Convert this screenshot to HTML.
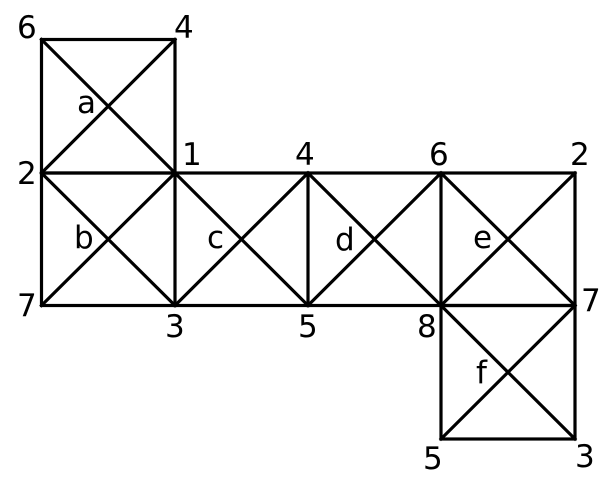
<!DOCTYPE html>
<html><head><meta charset="utf-8"><style>
html,body{margin:0;padding:0;background:#fff}
svg{display:block}
text{font-family:"DejaVu Sans","Liberation Sans",sans-serif;font-size:31px;fill:#000}
</style></head><body>
<svg width="614" height="479" viewBox="0 0 614 479" xmlns="http://www.w3.org/2000/svg">
<g stroke="#000" stroke-width="3.2" fill="none" stroke-linecap="square">
<rect x="41.5" y="39.5" width="133.5" height="133.5"/>
<line x1="41.5" y1="39.5" x2="175" y2="173"/><line x1="175" y1="39.5" x2="41.5" y2="173"/>
<rect x="41.5" y="173" width="533.5" height="132.5"/>
<line x1="175" y1="173" x2="175" y2="305.5"/>
<line x1="308" y1="173" x2="308" y2="305.5"/>
<line x1="441" y1="173" x2="441" y2="305.5"/>
<line x1="41.5" y1="173" x2="175" y2="305.5"/><line x1="175" y1="173" x2="41.5" y2="305.5"/>
<line x1="175" y1="173" x2="308" y2="305.5"/><line x1="308" y1="173" x2="175" y2="305.5"/>
<line x1="308" y1="173" x2="441" y2="305.5"/><line x1="441" y1="173" x2="308" y2="305.5"/>
<line x1="441" y1="173" x2="575" y2="305.5"/><line x1="575" y1="173" x2="441" y2="305.5"/>
<rect x="441" y="305.5" width="134" height="133.5"/>
<line x1="441" y1="305.5" x2="575" y2="439"/><line x1="575" y1="305.5" x2="441" y2="439"/>
</g>
<text x="17" y="38">6</text>
<text x="174" y="38">4</text>
<text x="77" y="113">a</text>
<text x="17" y="184">2</text>
<text x="182" y="165">1</text>
<text x="295" y="165">4</text>
<text x="429" y="165">6</text>
<text x="570" y="165">2</text>
<text x="74" y="248">b</text>
<text x="207" y="248">c</text>
<text x="335" y="250">d</text>
<text x="473" y="248">e</text>
<text x="17" y="316">7</text>
<text x="165" y="337">3</text>
<text x="298" y="337">5</text>
<text x="417" y="337">8</text>
<text x="581" y="311">7</text>
<text x="476" y="383">f</text>
<text x="423" y="469">5</text>
<text x="575" y="467">3</text>
</svg>
</body></html>
